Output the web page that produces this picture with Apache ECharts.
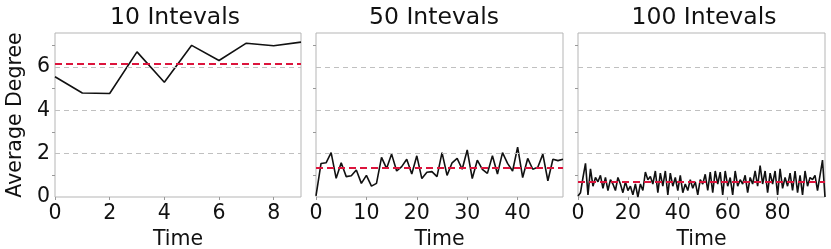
<!DOCTYPE html>
<html><head><meta charset="utf-8">
<script src="https://cdn.jsdelivr.net/npm/echarts@6/dist/echarts.min.js"></script>
<style>html,body{margin:0;padding:0;background:#fff}#c{width:831px;height:249px}</style>
</head><body><div id="c"></div>
<script>
const titles = ['10 Intevals', '50 Intevals', '100 Intevals'];
const series10 = [5.55, 4.8, 4.78, 6.7, 5.3, 7.0, 6.3, 7.1, 6.98, 7.15];
const series50 = [0.05, 1.55, 1.58, 2.05, 0.86, 1.58, 0.94, 0.98, 1.25, 0.63,
  1.0, 0.5, 0.63, 1.83, 1.32, 1.98, 1.2, 1.4, 1.74, 1.06,
  1.9, 0.85, 1.14, 1.17, 0.94, 2.05, 1.0, 1.58, 1.78, 1.28,
  2.17, 0.85, 1.7, 1.28, 1.09, 1.9, 1.06, 2.05, 1.55, 1.2,
  2.3, 0.9, 1.78, 1.28, 1.37, 1.98, 0.75, 1.74, 1.68, 1.74];
const series100 = [0.05, 0.2, 0.9, 1.55, 0.1, 1.3, 0.5, 0.9, 0.7, 1.0,
  0.4, 0.9, 0.3, 0.8, 0.6, 0.3, 0.9, 0.6, 0.2, 0.7,
  0.3, 0.5, 0.1, 0.6, 0.0, 0.6, 0.3, 1.15, 0.8, 0.95,
  0.6, 1.2, 0.2, 1.1, 0.5, 1.2, 0.1, 1.1, 0.5, 0.9,
  0.3, 1.0, 0.2, 0.6, 0.3, 0.8, 0.4, 0.7, 0.1, 0.8,
  0.6, 1.05, 0.3, 1.15, 0.2, 1.2, 0.6, 1.15, 0.1, 1.2,
  0.5, 0.9, 0.1, 1.2, 0.5, 0.8, 0.6, 1.0, 0.2, 0.9,
  0.6, 1.2, 0.5, 1.45, 0.6, 1.2, 0.2, 1.1, 0.6, 1.2,
  0.1, 1.3, 0.4, 0.9, 0.5, 1.1, 0.3, 1.2, 0.2, 1.0,
  0.1, 1.2, 0.5, 0.9, 0.8, 1.0, 0.3, 1.0, 1.7, 0.0];
const meanValues = [6.17, 1.36, 0.71];
const xMax = [9, 49, 99];
const xTickLabels = [[0, 2, 4, 6, 8], [0, 10, 20, 30, 40], [0, 20, 40, 60, 80]];
const yTickLabels = [0, 2, 4, 6];
const yMinorTicks = [1, 3, 5, 7];
const yGridValues = [2, 4, 6];
const yMax = 7.57;
const allSeries = [series10, series50, series100];

const FONT = 'DejaVu Sans';
const gridLefts = [55, 316, 578];
const titleCenters = [170, 429, 699];
const gridWidth = 246;
const chart = echarts.init(document.getElementById('c'), null, {renderer: 'canvas'});
const grids = [], xAxes = [], yAxes = [], series = [], titleOpts = [];
for (let k = 0; k < 3; k++) {
  grids.push({left: gridLefts[k], width: gridWidth + (k ? 1 : 0), top: 33, height: 164,
    containLabel: false, outerBoundsMode: 'none',
    show: true, borderColor: '#b5b5b5', borderWidth: 1, backgroundColor: 'transparent'});
  titleOpts.push({text: titles[k], left: titleCenters[k], top: 1, textAlign: 'center',
    textStyle: {fontFamily: FONT, fontSize: 23.5, fontWeight: 'normal', color: '#111'}});
  xAxes.push({type: 'value', gridIndex: k, min: 0, max: xMax[k],
    name: 'Time', nameLocation: 'middle', nameGap: 29,
    nameTextStyle: {fontFamily: FONT, fontSize: 20.5, color: '#111'},
    axisLine: {show: false},
    axisTick: {show: true, customValues: xTickLabels[k], length: 3, lineStyle: {color: '#999'}},
    axisLabel: {customValues: xTickLabels[k], fontFamily: FONT, fontSize: 20.5, color: '#111', margin: 6},
    splitLine: {show: false}});
  yAxes.push({type: 'value', gridIndex: k, min: 0, max: yMax,
    name: k === 0 ? 'Average Degree' : '', nameLocation: 'middle', nameGap: 29,
    nameTextStyle: {fontFamily: FONT, fontSize: 20.5, color: '#111'},
    axisLine: {show: false},
    axisTick: {show: true, customValues: yMinorTicks, length: 3, lineStyle: {color: '#999'}},
    axisLabel: {show: k === 0, customValues: yTickLabels, fontFamily: FONT, fontSize: 20.5, color: '#111', margin: 5},
    splitLine: {show: false}});
  series.push({type: 'line', xAxisIndex: k, yAxisIndex: k, showSymbol: false, symbol: 'none',
    data: allSeries[k].map((v, i) => [i, v]),
    lineStyle: {color: '#111', width: 1.6}, z: 3, silent: true,
    markLine: {silent: true, symbol: 'none', label: {show: false}, animation: false,
      data: yGridValues.map(v => ({yAxis: v, lineStyle: {color: '#c0c0c0', type: [5, 4], width: 1}}))
        .concat([{yAxis: meanValues[k], lineStyle: {color: '#dc143c', type: [7, 4], width: 2}}])}
  });
}
chart.setOption({animation: false, title: titleOpts, grid: grids, xAxis: xAxes, yAxis: yAxes, series: series});
</script></body></html>
